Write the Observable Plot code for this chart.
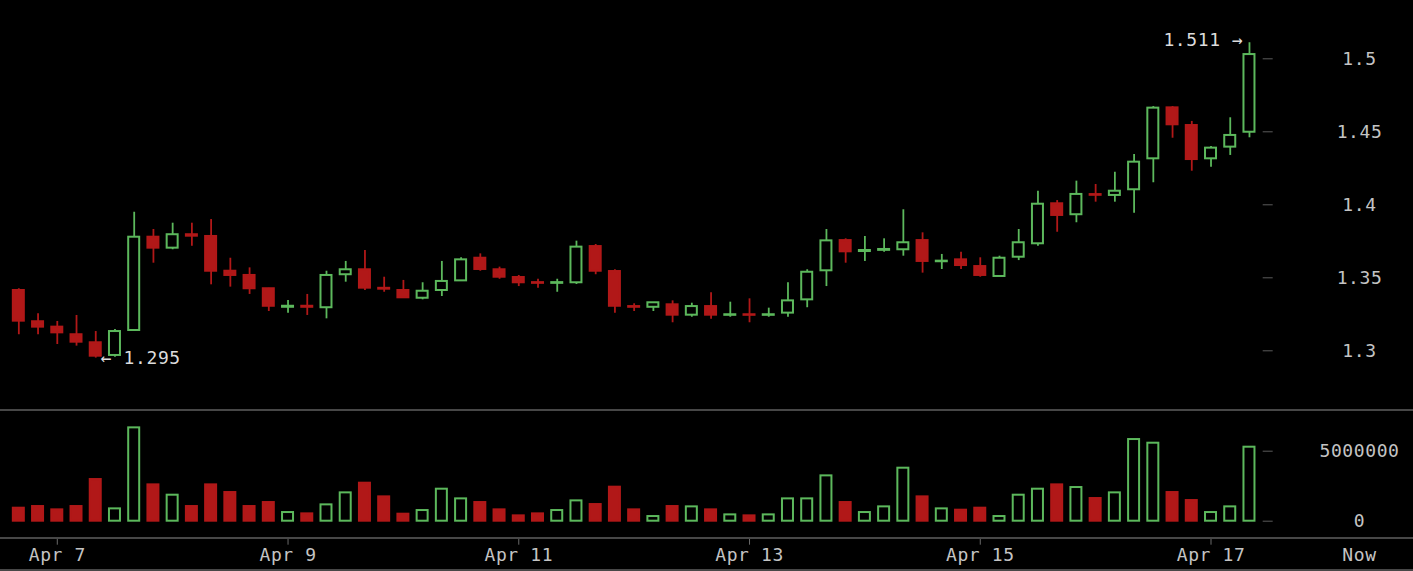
<!DOCTYPE html>
<html><head><meta charset="utf-8">
<script src="https://cdn.jsdelivr.net/npm/d3@7"></script>
<script src="https://cdn.jsdelivr.net/npm/@observablehq/plot@0.6"></script>
<style>
html,body{margin:0;padding:0;background:#000;}
#wrap{position:relative;width:1413px;height:571px;overflow:hidden;background:#000;}
#wrap svg{display:block;}
.sep{position:absolute;left:0;width:1413px;height:2px;background:#474747;}
</style></head>
<body><div id="wrap"></div>
<script>
// ---- data ----
const startTime = "2014-04-06T16:00:00Z"; // first 4-hour candle
const stepHours = 4;
const open  = [1.3413,1.3199,1.3162,1.3110,1.3055,1.2968,1.3139,1.3778,1.3703,1.3795,
               1.3783,1.3545,1.3516,1.3425,1.3298,1.3305,1.3295,1.3521,1.3555,1.3428,
               1.3413,1.3360,1.3413,1.3479,1.3634,1.3555,1.3502,1.3467,1.3462,1.3466,
               1.3714,1.3543,1.3303,1.3298,1.3315,1.3244,1.3303,1.3243,1.3247,1.3243,
               1.3258,1.3349,1.3548,1.3755,1.3680,1.3688,1.3692,1.3755,1.3610,1.3623,
               1.3577,1.3509,1.3641,1.3733,1.4007,1.3932,1.4070,1.4064,1.4103,1.4315,
               1.4664,1.4543,1.4315,1.4395,1.4497];
const high  = [1.3425,1.3253,1.3201,1.3242,1.3132,1.3146,1.3949,1.3831,1.3874,1.3874,
               1.3899,1.3634,1.3568,1.3428,1.3345,1.3386,1.3545,1.3612,1.3687,1.3504,
               1.3482,1.3466,1.3612,1.3637,1.3664,1.3573,1.3516,1.3490,1.3490,1.3751,
               1.3728,1.3555,1.3322,1.3329,1.3342,1.3326,1.3397,1.3333,1.3356,1.3292,
               1.3466,1.3555,1.3831,1.3767,1.3783,1.3767,1.3966,1.3808,1.3660,1.3675,
               1.3637,1.3648,1.3831,1.4093,1.4029,1.4162,1.4139,1.4223,1.4345,1.4673,
               1.4673,1.4571,1.4399,1.4596,1.5110];
const low   = [1.3110,1.3110,1.3043,1.3032,1.2950,1.2955,1.3135,1.3600,1.3692,1.3716,
               1.3452,1.3436,1.3386,1.3269,1.3258,1.3242,1.3219,1.3470,1.3413,1.3401,
               1.3360,1.3349,1.3372,1.3477,1.3545,1.3490,1.3440,1.3429,1.3401,1.3454,
               1.3521,1.3258,1.3269,1.3269,1.3192,1.3230,1.3216,1.3230,1.3192,1.3230,
               1.3230,1.3295,1.3440,1.3600,1.3612,1.3675,1.3648,1.3532,1.3557,1.3557,
               1.3504,1.3507,1.3618,1.3716,1.3812,1.3877,1.4018,1.4018,1.3942,1.4151,
               1.4456,1.4230,1.4258,1.4338,1.4459];
const close = [1.3203,1.3162,1.3123,1.3059,1.2963,1.3132,1.3778,1.3703,1.3795,1.3785,
               1.3545,1.3516,1.3425,1.3305,1.3305,1.3298,1.3516,1.3555,1.3429,1.3422,
               1.3363,1.3408,1.3475,1.3623,1.3557,1.3504,1.3466,1.3462,1.3467,1.3710,
               1.3545,1.3305,1.3298,1.3329,1.3244,1.3303,1.3244,1.3247,1.3243,1.3247,
               1.3342,1.3538,1.3753,1.3678,1.3687,1.3694,1.3740,1.3612,1.3614,1.3584,
               1.3516,1.3634,1.3740,1.4004,1.3927,1.4071,1.4065,1.4093,1.4292,1.4662,
               1.4548,1.4310,1.4388,1.4475,1.5029];
const volume = [928000,1048000,810000,1048000,2976000,881000,6667000,2595000,1857000,1048000,
                2595000,2048000,1048000,1333000,619000,524000,1167000,2024000,2714000,1738000,
                500000,762000,2286000,1595000,1333000,810000,381000,524000,762000,1452000,
                1190000,2429000,810000,333000,1048000,1024000,810000,452000,381000,452000,
                1595000,1595000,3238000,1333000,619000,1024000,3786000,1738000,881000,786000,
                929000,333000,1857000,2286000,2595000,2405000,1619000,2024000,5833000,5571000,
                2048000,1476000,619000,1024000,5286000];
const priceTicks = [1.3, 1.35, 1.4, 1.45, 1.5];
const volumeTicks = [0, 5000000];
const dateTicks = ["2014-04-07T00:00:00Z","2014-04-09T00:00:00Z","2014-04-11T00:00:00Z",
                   "2014-04-13T00:00:00Z","2014-04-15T00:00:00Z","2014-04-17T00:00:00Z"];
const dateTickLabels = ["Apr 7","Apr 9","Apr 11","Apr 13","Apr 15","Apr 17"];
const endLabel = "Now";

// ---- build ----
const RED = "#b11818", GREEN = "#5cb85c";
const t0 = new Date(startTime);
const candles = open.map((o, i) => ({
  t: d3.utcHour.offset(t0, stepHours * i).getTime(),
  open: o, high: high[i], low: low[i], close: close[i], volume: volume[i],
  up: close[i] >= o
}));
const ups = candles.filter(d => d.up), downs = candles.filter(d => !d.up);
const tickMs = dateTicks.map(s => new Date(s).getTime());
const tickLabelOf = new Map(tickMs.map((t, i) => [t, dateTickLabels[i]]));
const lowC = candles[d3.minIndex(candles, d => d.low)];
const highC = candles[d3.maxIndex(candles, d => d.high)];

const W = 1413, ML = 5.6, MR = 151.3;
const style = {background: "#000", color: "#c4c4c4", fontFamily: "DejaVu Sans Mono",
               fontSize: "18px", letterSpacing: "0.6px", overflow: "visible"};
const xOpts = {type: "band", domain: candles.map(d => d.t), padding: 0.324, round: false, axis: null};

const price = Plot.plot({
  width: W, height: 410, marginLeft: ML, marginRight: MR, marginTop: 0, marginBottom: 0,
  style,
  x: xOpts,
  y: {domain: [1.3, 1.5], range: [350.3, 58.3], axis: null},
  marks: [
    Plot.axisY({anchor: "right", ticks: priceTicks, tickFormat: d => String(d), label: null,
                tickSize: 10, tickPadding: 87.3, textAnchor: "middle", stroke: "#5a5a5a"}),
    Plot.ruleX(ups, {x: "t", y1: "low", y2: "high", stroke: GREEN, strokeWidth: 1.8}),
    Plot.ruleX(downs, {x: "t", y1: "low", y2: "high", stroke: RED, strokeWidth: 1.8}),
    Plot.barY(ups, {x: "t", y1: "open", y2: "close", fill: "#000", stroke: GREEN,
                    strokeWidth: 2, insetLeft: 1, insetRight: 1}),
    Plot.barY(downs, {x: "t", y1: "open", y2: "close", fill: RED, stroke: RED,
                      strokeWidth: 2, insetLeft: 1, insetRight: 1}),
    Plot.text([lowC], {x: "t", y: "low", text: d => "\u2190 " + d.low.toFixed(3),
                       textAnchor: "start", dx: 5, fill: "#dcdcdc"}),
    Plot.text([highC], {x: "t", y: "high", text: d => d.high.toFixed(3) + " \u2192",
                        textAnchor: "end", dx: -6, dy: -3, fill: "#dcdcdc"})
  ]
});

const vol = Plot.plot({
  width: W, height: 161, marginLeft: ML, marginRight: MR, marginTop: 0, marginBottom: 33.3,
  style,
  x: xOpts,
  y: {domain: [0, 5000000], range: [110.7, 40.7], axis: null},
  marks: [
    Plot.axisY({anchor: "right", ticks: volumeTicks, tickFormat: "d", label: null,
                tickSize: 10, tickPadding: 87.3, textAnchor: "middle", stroke: "#5a5a5a"}),
    Plot.axisX({anchor: "bottom", ticks: tickMs, tickFormat: t => tickLabelOf.get(t), label: null,
                tickSize: 7, tickPadding: 3, stroke: "#6a6a6a"}),
    Plot.barY(downs, {x: "t", y: "volume", fill: RED, stroke: RED,
                      strokeWidth: 2, insetLeft: 1, insetRight: 1}),
    Plot.barY(ups, {x: "t", y: "volume", fill: "#000", stroke: GREEN,
                    strokeWidth: 2, insetLeft: 1, insetRight: 1}),
    Plot.text([endLabel], {frameAnchor: "bottom-right", text: d => d, dx: 97.3, dy: 10,
                           lineAnchor: "top", textAnchor: "middle"})
  ]
});

const wrap = document.getElementById("wrap");
wrap.append(price, vol);
for (const top of [409, 537, 569]) {
  const s = document.createElement("div");
  s.className = "sep"; s.style.top = top + "px";
  wrap.append(s);
}
</script>
</body></html>
